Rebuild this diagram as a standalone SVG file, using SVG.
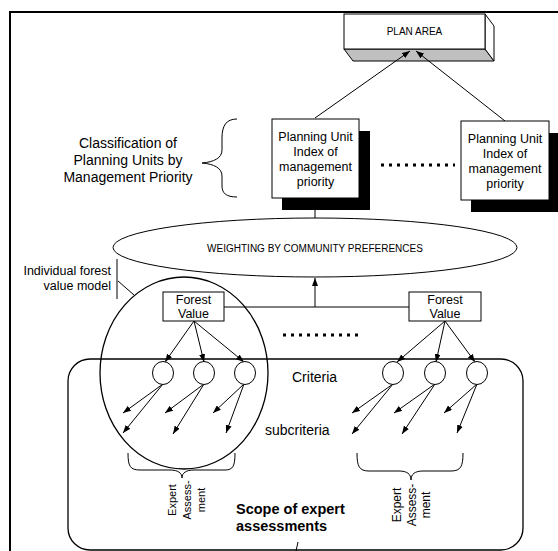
<svg xmlns="http://www.w3.org/2000/svg" width="558" height="551" viewBox="0 0 558 551">
<defs>
<style>
.ln{stroke:#000;stroke-width:1;fill:none}
.bx{fill:#fff;stroke:#000;stroke-width:1}
.t{font-family:"Liberation Sans",Arial,sans-serif;fill:#000}
.c{text-anchor:middle}
.dot{stroke:#000;stroke-width:3;stroke-dasharray:3 5;fill:none}
</style>
<marker id="ah" markerWidth="8" markerHeight="6" refX="8" refY="3" orient="auto" markerUnits="userSpaceOnUse">
<path d="M0,0 L8,3 L0,6 z" fill="#000"/>
</marker>
</defs>
<rect width="558" height="551" fill="#fff"/>
<path d="M10,560 L10,12 L560,12" fill="none" stroke="#000" stroke-width="2"/>

<g id="plan-area">
<polygon points="344,49 485,49 494,61 353,61" fill="#c0c0c0" stroke="#000" stroke-width="1"/>
<polygon points="485,14 494,26 494,61 485,49" fill="#fff" stroke="#000" stroke-width="1"/>
<rect class="bx" x="344" y="14" width="141" height="35"/>
<text class="t c" x="414.5" y="35" font-size="10">PLAN AREA</text>
</g>

<g id="scope">
<rect x="68" y="359" width="455" height="191" rx="22" ry="22" fill="none" stroke="#000" stroke-width="1.3"/>
<text class="t" x="236" y="514" font-size="14.5" font-weight="bold">Scope of expert</text>
<text class="t" x="236" y="531" font-size="14.5" font-weight="bold">assessments</text>
</g>

<g id="forest-model">
<ellipse cx="184" cy="373" rx="84" ry="96" fill="none" stroke="#000" stroke-width="1.3"/>
<line class="ln" x1="117" y1="259" x2="117" y2="299"/>
<text class="t" x="111" y="275" font-size="12.5" text-anchor="end">Individual forest</text>
<text class="t" x="111" y="290" font-size="12.5" text-anchor="end">value model</text>
</g>

<g id="connectors">
<line class="ln" x1="315" y1="198" x2="315" y2="218"/>
<line class="ln" x1="315" y1="118" x2="410" y2="51" marker-end="url(#ah)"/>
<line class="ln" x1="505" y1="121" x2="416" y2="51" marker-end="url(#ah)"/>
<line class="ln" x1="224" y1="307" x2="409" y2="307"/>
<line class="ln" x1="315" y1="307" x2="315" y2="278" marker-end="url(#ah)"/>
<line class="ln" x1="118" y1="281" x2="134" y2="295"/>
<line class="ln" x1="194" y1="321" x2="165" y2="362" marker-end="url(#ah)"/>
<line class="ln" x1="194" y1="321" x2="204" y2="362" marker-end="url(#ah)"/>
<line class="ln" x1="194" y1="321" x2="244" y2="362" marker-end="url(#ah)"/>
<line class="ln" x1="445" y1="321" x2="397" y2="362" marker-end="url(#ah)"/>
<line class="ln" x1="445" y1="321" x2="436" y2="362" marker-end="url(#ah)"/>
<line class="ln" x1="445" y1="321" x2="475" y2="362" marker-end="url(#ah)"/>
<line class="ln" x1="163" y1="384" x2="123" y2="413" marker-end="url(#ah)"/>
<line class="ln" x1="163" y1="384" x2="123" y2="433" marker-end="url(#ah)"/>
<line class="ln" x1="204" y1="384" x2="165" y2="413" marker-end="url(#ah)"/>
<line class="ln" x1="204" y1="384" x2="173" y2="434" marker-end="url(#ah)"/>
<line class="ln" x1="244" y1="384" x2="213" y2="413" marker-end="url(#ah)"/>
<line class="ln" x1="244" y1="384" x2="226" y2="433" marker-end="url(#ah)"/>
<line class="ln" x1="393" y1="384" x2="352" y2="413" marker-end="url(#ah)"/>
<line class="ln" x1="393" y1="384" x2="352" y2="434" marker-end="url(#ah)"/>
<line class="ln" x1="435" y1="384" x2="394" y2="413" marker-end="url(#ah)"/>
<line class="ln" x1="435" y1="384" x2="402" y2="434" marker-end="url(#ah)"/>
<line class="ln" x1="477" y1="384" x2="444" y2="413" marker-end="url(#ah)"/>
<line class="ln" x1="477" y1="384" x2="457" y2="433" marker-end="url(#ah)"/>
<line class="ln" x1="296" y1="551" x2="298" y2="542"/>
<line class="dot" x1="381" y1="165" x2="455" y2="165"/>
<line class="dot" x1="283" y1="335" x2="361" y2="335"/>
</g>

<g id="classification">
<path class="ln" d="M237,119 C226,119 222,126 222,138 L222,150 C222,158 214,162 202,163 C214,164 222,168 222,176 L222,186 C222,193 226,197 237,197"/>
<text class="t c" x="128" y="148" font-size="14">Classification of</text>
<text class="t c" x="128" y="165" font-size="14">Planning Units by</text>
<text class="t c" x="128" y="182" font-size="14">Management Priority</text>
</g>

<g id="pu-left">
<rect x="282" y="131" width="88" height="79" fill="#000"/>
<rect class="bx" x="272" y="119" width="87" height="79"/>
<text class="t c" x="315.5" y="141" font-size="12.5">Planning  Unit</text>
<text class="t c" x="315.5" y="156" font-size="12.5">Index of</text>
<text class="t c" x="315.5" y="171" font-size="12.5">management</text>
<text class="t c" x="315.5" y="186" font-size="12.5">priority</text>
</g>

<g id="pu-right">
<rect x="471" y="133" width="88" height="79" fill="#000"/>
<rect class="bx" x="461" y="121" width="88" height="79"/>
<text class="t c" x="505" y="143" font-size="12.5">Planning  Unit</text>
<text class="t c" x="505" y="158" font-size="12.5">Index of</text>
<text class="t c" x="505" y="173" font-size="12.5">management</text>
<text class="t c" x="505" y="188" font-size="12.5">priority</text>
</g>

<g id="weighting">
<ellipse cx="315" cy="247.5" rx="202" ry="29.5" fill="#fff" stroke="#000" stroke-width="1"/>
<text class="t c" x="315" y="252" font-size="10">WEIGHTING BY COMMUNITY PREFERENCES</text>
</g>

<g id="fv-left">
<rect class="bx" x="163" y="292" width="61" height="29"/>
<text class="t c" x="193.5" y="304" font-size="12.5">Forest</text>
<text class="t c" x="193.5" y="318" font-size="12.5">Value</text>
</g>

<g id="fv-right">
<rect class="bx" x="409" y="292" width="72" height="29"/>
<text class="t c" x="445" y="304" font-size="12.5">Forest</text>
<text class="t c" x="445" y="318" font-size="12.5">Value</text>
</g>

<g id="criteria">
<ellipse class="bx" cx="163" cy="373" rx="10.5" ry="11.5"/>
<ellipse class="bx" cx="204" cy="373" rx="10.5" ry="11.5"/>
<ellipse class="bx" cx="245" cy="373" rx="10.5" ry="11.5"/>
<ellipse class="bx" cx="393" cy="373" rx="10.5" ry="11.5"/>
<ellipse class="bx" cx="435" cy="373" rx="10.5" ry="11.5"/>
<ellipse class="bx" cx="477" cy="373" rx="10.5" ry="11.5"/>
<text class="t" x="292" y="382" font-size="14">Criteria</text>
<text class="t" x="265" y="435" font-size="14">subcriteria</text>
</g>

<g id="expert-left">
<path class="ln" d="M128,453 C128,466 130,470 140,470 L170,470 C178,470 182,473 182,478 C182,473 186,470 194,470 L225,470 C233,470 235,466 235,453"/>
<text class="t c" font-size="11" transform="translate(176,500) rotate(-90)">Expert</text>
<text class="t c" font-size="11" transform="translate(190.5,500) rotate(-90)">Assess-</text>
<text class="t c" font-size="11" transform="translate(205,500) rotate(-90)">ment</text>
</g>

<g id="expert-right">
<path class="ln" d="M357,453 C357,466 359,471 369,471 L399,471 C407,471 411,474 411,480 C411,474 415,471 423,471 L451,471 C461,471 463,466 463,453"/>
<text class="t c" font-size="12" transform="translate(401,505) rotate(-90)">Expert</text>
<text class="t c" font-size="12" transform="translate(416,505) rotate(-90)">Assess-</text>
<text class="t c" font-size="12" transform="translate(430,505) rotate(-90)">ment</text>
</g>
</svg>
